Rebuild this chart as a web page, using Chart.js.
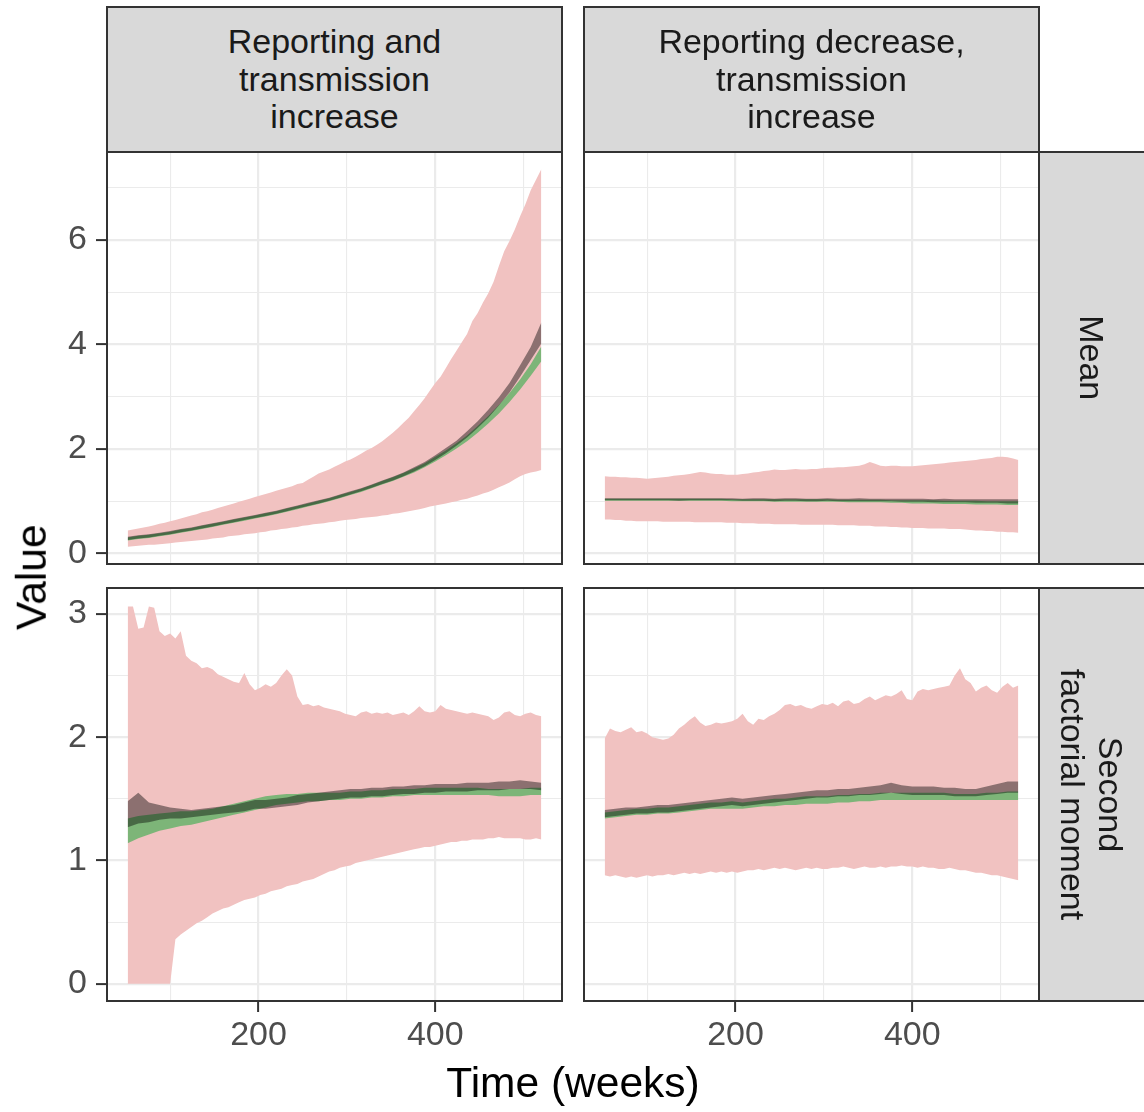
<!DOCTYPE html>
<html>
<head>
<meta charset="utf-8">
<script src="https://cdn.jsdelivr.net/npm/chart.js@4.4.1/dist/chart.umd.min.js"></script>
<style>
  body { margin: 0; background: #fff; }
  #wrap { position: relative; width: 1144px; height: 1112px; overflow: hidden; background: #fff;
          font-family: "Liberation Sans", Arial, sans-serif; }
  canvas { position: absolute; }
  .frame { position: absolute; box-sizing: border-box; border: 2px solid #333; pointer-events: none; }
  .strip { position: absolute; box-sizing: border-box; border: 2px solid #333; background: #d9d9d9;
           display: flex; align-items: center; justify-content: center; text-align: center;
           color: #1a1a1a; font-size: 34px; line-height: 37.5px; overflow: hidden; }
  .rot { position: absolute; white-space: nowrap; text-align: center; color: #1a1a1a;
         font-size: 34px; line-height: 37.5px; }
  .title { position: absolute; color: #000; font-size: 42.5px; line-height: 42.5px; white-space: nowrap; text-align: center; }
</style>
</head>
<body>
<div id="wrap">
  <canvas id="cTL" width="562" height="471" style="left:0px;top:122px"></canvas>
  <canvas id="cTR" width="455" height="471" style="left:584px;top:122px"></canvas>
  <canvas id="cBL" width="562" height="529" style="left:0px;top:558px"></canvas>
  <canvas id="cBR" width="455" height="529" style="left:584px;top:558px"></canvas>

  <div class="frame" style="left:106px;top:151px;width:457px;height:414px"></div>
  <div class="frame" style="left:583px;top:151px;width:457px;height:414px"></div>
  <div class="frame" style="left:106px;top:587px;width:457px;height:415px"></div>
  <div class="frame" style="left:583px;top:587px;width:457px;height:415px"></div>

  <div class="strip" style="left:106px;top:6px;width:457px;height:147px"><div>Reporting and<br>transmission<br>increase</div></div>
  <div class="strip" style="left:583px;top:6px;width:457px;height:147px"><div>Reporting decrease,<br>transmission<br>increase</div></div>
  <div class="strip" style="left:1038px;top:151px;width:130px;height:414px"></div>
  <div class="strip" style="left:1038px;top:587px;width:130px;height:415px"></div>
  <div class="rot" style="left:941px;top:339px;width:300px;height:37.5px;transform:rotate(90deg)">Mean</div>
  <div class="rot" style="left:941px;top:757px;width:300px;height:75px;transform:rotate(90deg)">Second<br>factorial moment</div>

  <div class="title" style="left:-118px;top:556px;width:300px;height:42.5px;transform:rotate(-90deg)">Value</div>
  <div class="title" style="left:373px;top:1062px;width:400px;height:42.5px">Time (weeks)</div>
</div>
<script>
// ---------------- data ----------------
const weeksFine = [52,58,64,70,76,82,88,94,100,106,
  112,118,124,130,136,142,148,154,160,166,
  172,178,184,190,196,202,208,214,220,226,
  232,238,244,250,256,262,268,274,280,286,
  292,298,304,310,316,322,328,334,340,346,
  352,358,364,370,376,382,388,394,400,406,
  412,418,424,430,436,442,448,454,460,466,
  472,478,484,490,496,502,508,514,520];
const weeksCoarse = [52,64,76,88,100,112,124,136,148,160,
  172,184,196,208,220,232,244,256,268,280,
  292,304,316,328,340,352,364,376,388,400,
  412,424,436,448,460,472,484,496,508,520];

const xTicks = [100,200,300,400,500];
const xTickLabels = [200,400];
const yTicksMean = [0,1,2,3,4,5,6,7];
const yTickLabelsMean = [0,2,4,6];
const yTicksSfm = [0,0.5,1,1.5,2,2.5,3];
const yTickLabelsSfm = [0,1,2,3];

// Mean, reporting and transmission increase
const tlPinkHi = [0.44,0.46,0.48,0.50,0.52,0.54,0.57,0.59,0.62,0.64,
  0.67,0.70,0.73,0.75,0.79,0.81,0.84,0.87,0.90,0.93,
  0.96,0.99,1.02,1.05,1.08,1.11,1.14,1.17,1.20,1.23,
  1.26,1.29,1.33,1.35,1.41,1.47,1.53,1.57,1.61,1.66,
  1.71,1.76,1.80,1.85,1.91,1.97,2.02,2.08,2.15,2.23,
  2.31,2.40,2.50,2.60,2.72,2.84,2.97,3.12,3.26,3.38,
  3.55,3.72,3.88,4.04,4.20,4.45,4.60,4.80,4.98,5.20,
  5.50,5.78,5.98,6.20,6.45,6.68,6.95,7.15,7.35];
const tlPinkLo = [0.13,0.14,0.15,0.16,0.17,0.17,0.18,0.19,0.20,0.21,
  0.22,0.23,0.24,0.25,0.26,0.27,0.29,0.30,0.31,0.33,
  0.34,0.35,0.37,0.38,0.39,0.41,0.42,0.44,0.45,0.47,
  0.48,0.50,0.51,0.53,0.54,0.56,0.57,0.58,0.60,0.61,
  0.63,0.64,0.65,0.66,0.68,0.69,0.70,0.71,0.73,0.74,
  0.76,0.77,0.79,0.81,0.83,0.85,0.87,0.90,0.92,0.94,
  0.96,0.98,1.00,1.03,1.05,1.08,1.11,1.15,1.18,1.22,
  1.27,1.31,1.36,1.42,1.48,1.52,1.55,1.57,1.60];
const tlGreenLo = [0.25,0.28,0.30,0.33,0.36,0.40,0.43,0.47,0.51,0.55,
  0.59,0.63,0.67,0.71,0.75,0.80,0.85,0.90,0.95,1.00,
  1.06,1.12,1.18,1.25,1.32,1.39,1.47,1.55,1.65,1.76,
  1.88,2.01,2.15,2.31,2.49,2.68,2.90,3.14,3.40,3.68];
const tlGreenHi = [0.31,0.34,0.36,0.39,0.42,0.46,0.49,0.53,0.57,0.61,
  0.65,0.69,0.73,0.77,0.81,0.86,0.91,0.96,1.01,1.06,
  1.12,1.18,1.24,1.31,1.39,1.46,1.54,1.63,1.73,1.85,
  1.97,2.11,2.26,2.44,2.63,2.84,3.07,3.33,3.62,3.96];
const tlDarkLo = [0.26,0.29,0.31,0.34,0.37,0.41,0.44,0.48,0.52,0.56,
  0.60,0.64,0.68,0.72,0.76,0.81,0.86,0.91,0.96,1.01,
  1.07,1.13,1.19,1.26,1.33,1.40,1.48,1.57,1.67,1.79,
  1.92,2.06,2.22,2.40,2.60,2.83,3.08,3.38,3.70,4.02];
const tlDarkHi = [0.32,0.35,0.37,0.40,0.43,0.47,0.50,0.54,0.58,0.62,
  0.66,0.70,0.74,0.78,0.82,0.87,0.92,0.97,1.02,1.07,
  1.13,1.19,1.25,1.32,1.40,1.47,1.55,1.65,1.75,1.88,
  2.02,2.16,2.34,2.53,2.75,2.99,3.26,3.60,3.95,4.42];

// Mean, reporting decrease, transmission increase
const trPinkHi = [1.48,1.47,1.47,1.46,1.46,1.45,1.45,1.44,1.43,1.44,
  1.45,1.46,1.47,1.49,1.50,1.51,1.52,1.54,1.56,1.55,
  1.53,1.52,1.52,1.51,1.51,1.51,1.52,1.53,1.55,1.56,
  1.58,1.59,1.61,1.60,1.60,1.61,1.62,1.61,1.61,1.62,
  1.62,1.63,1.64,1.64,1.65,1.65,1.66,1.67,1.68,1.71,
  1.75,1.72,1.68,1.67,1.68,1.68,1.67,1.67,1.67,1.68,
  1.69,1.70,1.71,1.72,1.73,1.74,1.75,1.76,1.77,1.78,
  1.79,1.81,1.82,1.83,1.85,1.85,1.84,1.82,1.79];
const trPinkLo = [0.65,0.65,0.64,0.64,0.63,0.63,0.62,0.62,0.62,0.62,
  0.62,0.61,0.61,0.61,0.61,0.61,0.61,0.60,0.60,0.60,
  0.60,0.60,0.60,0.59,0.59,0.59,0.58,0.58,0.58,0.57,
  0.57,0.57,0.56,0.56,0.56,0.56,0.56,0.55,0.55,0.55,
  0.55,0.55,0.55,0.55,0.54,0.54,0.54,0.54,0.53,0.53,
  0.53,0.52,0.52,0.52,0.51,0.51,0.50,0.50,0.49,0.49,
  0.49,0.48,0.48,0.48,0.48,0.47,0.47,0.47,0.46,0.45,
  0.44,0.44,0.43,0.43,0.42,0.42,0.41,0.41,0.40];
const trGreenLo = [1.01,1.01,1.01,1.01,1.01,1.01,1.01,1.01,1.01,1.01,
  1.01,1.01,1.00,1.00,1.00,1.00,0.99,0.99,0.99,0.99,
  0.99,0.99,0.99,0.98,0.98,0.98,0.98,0.97,0.97,0.96,
  0.96,0.96,0.95,0.95,0.95,0.94,0.94,0.94,0.93,0.93];
const trGreenHi = [1.05,1.05,1.05,1.05,1.05,1.05,1.05,1.05,1.05,1.05,
  1.05,1.05,1.04,1.04,1.04,1.04,1.04,1.04,1.04,1.04,
  1.04,1.04,1.03,1.03,1.03,1.03,1.03,1.02,1.02,1.02,
  1.02,1.02,1.01,1.01,1.01,1.01,1.00,1.00,1.00,1.00];
const trDarkLo = [1.02,1.02,1.02,1.02,1.02,1.02,1.02,1.01,1.02,1.02,
  1.02,1.02,1.02,1.01,1.01,1.01,1.00,1.01,1.01,1.00,
  1.00,1.01,1.00,1.00,1.00,1.00,1.00,1.00,0.99,0.99,
  0.99,0.98,0.98,0.98,0.98,0.97,0.97,0.97,0.96,0.96];
const trDarkHi = [1.06,1.06,1.06,1.06,1.06,1.06,1.06,1.06,1.06,1.06,
  1.06,1.06,1.06,1.05,1.06,1.06,1.05,1.06,1.06,1.05,
  1.05,1.06,1.05,1.05,1.06,1.05,1.05,1.05,1.05,1.05,
  1.05,1.04,1.05,1.04,1.04,1.04,1.04,1.04,1.04,1.04];

// Second factorial moment, reporting and transmission increase
const blPinkHi = [3.06,3.06,2.88,2.89,3.06,3.05,2.86,2.82,2.84,2.80,
  2.86,2.66,2.62,2.60,2.56,2.57,2.55,2.51,2.49,2.47,
  2.45,2.44,2.52,2.43,2.38,2.40,2.43,2.41,2.44,2.50,
  2.55,2.50,2.33,2.26,2.27,2.25,2.26,2.24,2.23,2.22,
  2.21,2.19,2.18,2.17,2.20,2.21,2.19,2.20,2.19,2.20,
  2.18,2.19,2.20,2.18,2.21,2.25,2.21,2.20,2.21,2.26,
  2.23,2.22,2.21,2.20,2.19,2.20,2.19,2.18,2.17,2.14,
  2.16,2.20,2.21,2.18,2.17,2.19,2.20,2.18,2.17];
const blPinkLo = [0,0,0,0,0,0,0,0,0,0.36,
  0.40,0.43,0.46,0.49,0.51,0.54,0.57,0.59,0.61,0.62,
  0.64,0.66,0.68,0.69,0.70,0.72,0.73,0.75,0.76,0.77,
  0.79,0.80,0.81,0.83,0.84,0.85,0.87,0.89,0.91,0.92,
  0.94,0.95,0.96,0.98,0.99,1.00,1.01,1.02,1.03,1.04,
  1.05,1.06,1.07,1.08,1.09,1.10,1.11,1.11,1.12,1.13,
  1.14,1.15,1.15,1.16,1.16,1.17,1.17,1.17,1.18,1.18,
  1.19,1.18,1.18,1.18,1.18,1.17,1.17,1.18,1.17];
const blGreenLo = [1.14,1.18,1.21,1.24,1.26,1.28,1.29,1.31,1.33,1.35,
  1.37,1.39,1.41,1.43,1.45,1.46,1.47,1.48,1.48,1.49,
  1.49,1.50,1.50,1.51,1.51,1.52,1.52,1.53,1.53,1.53,
  1.53,1.53,1.53,1.53,1.53,1.52,1.52,1.52,1.53,1.53];
const blGreenHi = [1.34,1.36,1.37,1.38,1.39,1.40,1.40,1.41,1.42,1.44,
  1.46,1.48,1.50,1.52,1.53,1.54,1.54,1.55,1.55,1.55,
  1.55,1.56,1.56,1.57,1.57,1.58,1.58,1.58,1.59,1.59,
  1.59,1.59,1.59,1.59,1.58,1.58,1.58,1.58,1.59,1.59];
const blDarkLo = [1.27,1.30,1.31,1.33,1.34,1.34,1.35,1.36,1.37,1.38,
  1.39,1.40,1.42,1.42,1.43,1.44,1.45,1.47,1.48,1.49,
  1.50,1.51,1.51,1.52,1.52,1.53,1.54,1.54,1.55,1.55,
  1.56,1.56,1.56,1.57,1.57,1.57,1.58,1.58,1.58,1.57];
const blDarkHi = [1.48,1.55,1.47,1.45,1.43,1.42,1.41,1.42,1.43,1.44,
  1.45,1.47,1.49,1.49,1.50,1.51,1.53,1.54,1.55,1.56,
  1.57,1.58,1.58,1.59,1.59,1.60,1.60,1.61,1.61,1.62,
  1.62,1.62,1.63,1.63,1.63,1.64,1.64,1.65,1.64,1.63];

// Second factorial moment, reporting decrease, transmission increase
const brPinkHi = [1.99,2.07,2.05,2.04,2.06,2.08,2.04,2.05,2.03,2.00,
  1.99,1.98,1.99,2.02,2.07,2.10,2.14,2.17,2.12,2.09,
  2.10,2.12,2.11,2.12,2.13,2.15,2.19,2.13,2.10,2.15,
  2.14,2.17,2.19,2.22,2.26,2.27,2.25,2.26,2.24,2.23,
  2.25,2.27,2.26,2.28,2.25,2.29,2.30,2.27,2.28,2.31,
  2.33,2.30,2.32,2.34,2.33,2.35,2.38,2.31,2.30,2.37,
  2.39,2.38,2.39,2.40,2.41,2.42,2.50,2.56,2.47,2.44,
  2.37,2.40,2.42,2.38,2.36,2.41,2.44,2.40,2.42];
const brPinkLo = [0.88,0.87,0.88,0.87,0.86,0.87,0.86,0.87,0.88,0.87,
  0.88,0.88,0.89,0.88,0.89,0.90,0.89,0.90,0.89,0.90,
  0.91,0.90,0.91,0.90,0.91,0.90,0.91,0.92,0.92,0.93,
  0.92,0.93,0.94,0.93,0.94,0.93,0.92,0.93,0.94,0.93,
  0.94,0.93,0.93,0.94,0.94,0.95,0.94,0.93,0.94,0.95,
  0.94,0.94,0.95,0.94,0.95,0.95,0.96,0.95,0.95,0.94,
  0.95,0.94,0.94,0.93,0.93,0.94,0.93,0.92,0.92,0.91,
  0.90,0.90,0.89,0.88,0.88,0.87,0.86,0.85,0.84];
const brGreenLo = [1.34,1.35,1.36,1.37,1.37,1.38,1.38,1.39,1.40,1.41,
  1.42,1.42,1.42,1.42,1.43,1.44,1.44,1.45,1.45,1.46,
  1.46,1.46,1.47,1.47,1.48,1.48,1.49,1.49,1.49,1.49,
  1.49,1.49,1.49,1.49,1.49,1.49,1.49,1.49,1.49,1.49];
const brGreenHi = [1.39,1.40,1.41,1.42,1.42,1.43,1.43,1.44,1.45,1.46,
  1.47,1.47,1.48,1.47,1.48,1.49,1.50,1.50,1.51,1.52,
  1.52,1.52,1.53,1.53,1.54,1.54,1.55,1.55,1.55,1.55,
  1.55,1.55,1.55,1.54,1.54,1.54,1.55,1.55,1.56,1.56];
const brDarkLo = [1.35,1.36,1.37,1.38,1.38,1.39,1.39,1.40,1.41,1.42,
  1.43,1.44,1.45,1.44,1.45,1.46,1.47,1.48,1.49,1.50,
  1.51,1.51,1.52,1.52,1.53,1.53,1.54,1.55,1.54,1.53,
  1.53,1.53,1.53,1.52,1.52,1.52,1.53,1.54,1.55,1.55];
const brDarkHi = [1.41,1.42,1.43,1.43,1.44,1.45,1.45,1.46,1.47,1.48,
  1.49,1.50,1.51,1.50,1.51,1.52,1.53,1.54,1.55,1.56,
  1.57,1.57,1.58,1.58,1.59,1.60,1.61,1.63,1.61,1.60,
  1.60,1.60,1.59,1.59,1.58,1.58,1.60,1.62,1.64,1.64];

// ---------------- styling ----------------
const FONT = '"Liberation Sans", Arial, sans-serif';
const PINK = 'rgb(241,194,193)';
const GREEN = 'rgba(9,167,47,0.5)';
const DARK = 'rgba(0,0,0,0.42)';
const GRID = '#ebebeb';
const X_MIN = 28.6, X_MAX = 543.4;
const PAD = 30; // room reserved above/below each panel for Chart.js label padding

function band(xs, lo, hi, color, order) {
  return [
    { data: xs.map((x, i) => ({ x: x, y: lo[i] })), borderColor: 'transparent', borderWidth: 0,
      pointRadius: 0, fill: false, order: order },
    { data: xs.map((x, i) => ({ x: x, y: hi[i] })), borderColor: 'transparent', borderWidth: 0,
      pointRadius: 0, fill: '-1', backgroundColor: color, order: order }
  ];
}

function xScale(showLabels, h) {
  return {
    type: 'linear', min: X_MIN, max: X_MAX,
    afterBuildTicks: s => { s.ticks = xTicks.map(v => ({ value: v })); },
    afterFit: s => { s.height = h; },
    border: { display: false },
    grid: {
      color: GRID,
      lineWidth: c => (c.tick && xTickLabels.includes(c.tick.value)) ? 2.2 : 1.1,
      drawTicks: showLabels, tickLength: 11, tickWidth: 2,
      tickColor: c => (c.tick && xTickLabels.includes(c.tick.value)) ? '#333333' : 'rgba(0,0,0,0)'
    },
    ticks: {
      display: showLabels, autoSkip: false, maxRotation: 0, padding: 3,
      color: '#4d4d4d', font: { family: FONT, size: 34 },
      callback: v => xTickLabels.includes(v) ? String(v) : ''
    }
  };
}

function yScale(min, max, ticksArr, labelsArr, showLabels, w) {
  return {
    type: 'linear', min: min, max: max,
    afterBuildTicks: s => { s.ticks = ticksArr.map(v => ({ value: v })); },
    afterFit: s => { s.width = w; },
    border: { display: false },
    grid: {
      color: GRID,
      lineWidth: c => (c.tick && labelsArr.includes(c.tick.value)) ? 2.2 : 1.1,
      drawTicks: showLabels, tickLength: 11, tickWidth: 2,
      tickColor: c => (c.tick && labelsArr.includes(c.tick.value)) ? '#333333' : 'rgba(0,0,0,0)'
    },
    ticks: {
      display: showLabels, autoSkip: false, padding: 9,
      color: '#4d4d4d', font: { family: FONT, size: 34 },
      callback: v => labelsArr.includes(v) ? String(v) : ''
    }
  };
}

function panel(id, sets, xs, ys, targetTop) {
  const [pinkLo, pinkHi, greenLo, greenHi, darkLo, darkHi] = sets;
  const canvas = document.getElementById(id);
  const chart = new Chart(canvas, {
    type: 'line',
    data: {
      datasets: [
        ...band(weeksCoarse, darkLo, darkHi, DARK, 1),
        ...band(weeksCoarse, greenLo, greenHi, GREEN, 2),
        ...band(weeksFine, pinkLo, pinkHi, PINK, 3)
      ]
    },
    options: {
      responsive: false, maintainAspectRatio: false, animation: false, devicePixelRatio: 1, events: [],
      layout: { padding: { top: PAD, bottom: PAD, left: 0, right: 0 }, autoPadding: false },
      elements: { line: { tension: 0 } },
      plugins: { legend: { display: false }, tooltip: { enabled: false } },
      scales: { x: xs, y: ys }
    }
  });
  // keep the plot area on the panel frame
  const top0 = parseFloat(canvas.style.top);
  const shift = targetTop - (top0 + chart.chartArea.top);
  if (Math.abs(shift) > 0.5) canvas.style.top = (top0 + shift) + 'px';
}

panel('cTL', [tlPinkLo, tlPinkHi, tlGreenLo, tlGreenHi, tlDarkLo, tlDarkHi],
      xScale(false, 0), yScale(-0.18, 7.68, yTicksMean, yTickLabelsMean, true, 107), 152);
panel('cTR', [trPinkLo, trPinkHi, trGreenLo, trGreenHi, trDarkLo, trDarkHi],
      xScale(false, 0), yScale(-0.18, 7.68, yTicksMean, yTickLabelsMean, false, 0), 152);
panel('cBL', [blPinkLo, blPinkHi, blGreenLo, blGreenHi, blDarkLo, blDarkHi],
      xScale(true, 56), yScale(-0.14, 3.21, yTicksSfm, yTickLabelsSfm, true, 107), 588);
panel('cBR', [brPinkLo, brPinkHi, brGreenLo, brGreenHi, brDarkLo, brDarkHi],
      xScale(true, 56), yScale(-0.14, 3.21, yTicksSfm, yTickLabelsSfm, false, 0), 588);
</script>
</body>
</html>
